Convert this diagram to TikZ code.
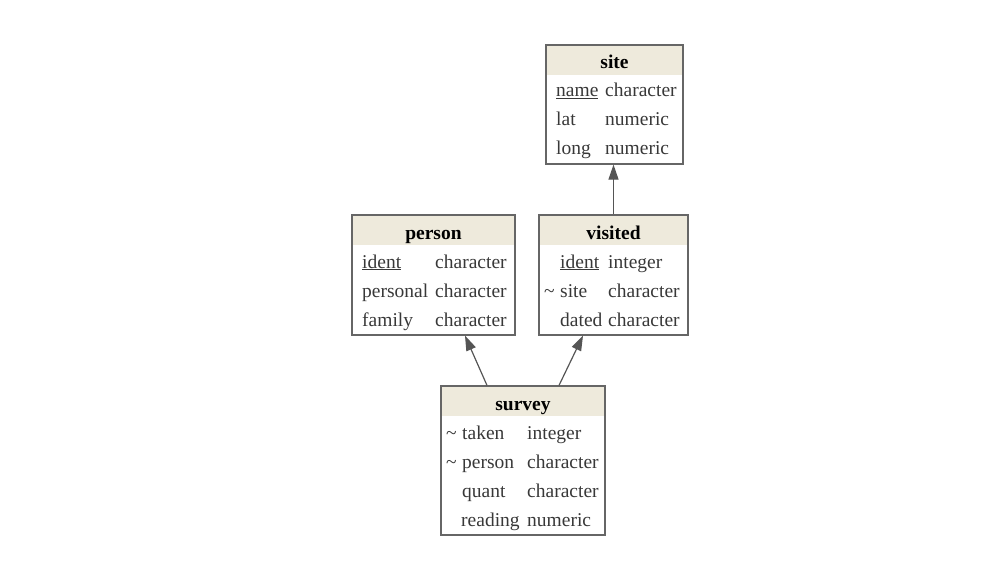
\documentclass[tikz,border=0pt]{standalone}
\usepackage{fontspec}
\setmainfont{Liberation Serif}
\usetikzlibrary{arrows.meta}
\usetikzlibrary{calc}

\definecolor{hdrfill}{HTML}{EEEADC}
\definecolor{boxline}{HTML}{666666}
\definecolor{fkline}{HTML}{555555}
\definecolor{rowtext}{HTML}{383838}

\tikzset{
  table/.style={draw=boxline, line width=1.2pt, inner sep=0pt},
  head/.style={anchor=base, inner sep=0pt, font=\fontsize{19.5}{23}\selectfont\bfseries, text=black},
  cell/.style={anchor=base west, inner sep=0pt, font=\fontsize{19.5}{23}\selectfont, text=rowtext},
  fk/.style={draw=fkline, line width=1.2pt, -{Triangle[length=15pt,width=10pt]}}
}

\begin{document}
\begin{tikzpicture}[x=1pt, y=-1pt]
            \useasboundingbox (0,0) rectangle (1000,580);
            % tables
            \node[table, minimum width=137pt, minimum height=119pt] (site)    at (614.5,104.5) {};
            \node[table, minimum width=163pt, minimum height=120pt] (person)  at (433.5,275)   {};
            \node[table, minimum width=149pt, minimum height=120pt] (visited) at (613.5,275)   {};
            \node[table, minimum width=164pt, minimum height=149pt] (survey)  at (523,460.5)   {};
            \foreach \t in {site, person, visited, survey}
              \fill[hdrfill] ($(\t.north west)+(2,2)$) rectangle ($(\t.north east)+(-2,31)$);
            % site
            \node[head] (site-h)      at (614.5,69) {site};
            \node[cell] (site-name)   at (556,97)   {\underline{name}};
            \node[cell] (site-name-t) at (605,97)   {character};
            \node[cell] (site-lat)    at (556,126)  {lat};
            \node[cell] (site-lat-t)  at (605,126)  {numeric};
            \node[cell] (site-long)   at (556,155)  {long};
            \node[cell] (site-long-t) at (605,155)  {numeric};
            % person
            \node[head] (person-h)          at (433.5,239) {person};
            \node[cell] (person-ident)      at (362,268)   {\underline{ident}};
            \node[cell] (person-ident-t)    at (435,268)   {character};
            \node[cell] (person-personal)   at (362,297)   {personal};
            \node[cell] (person-personal-t) at (435,297)   {character};
            \node[cell] (person-family)     at (362,326)   {family};
            \node[cell] (person-family-t)   at (435,326)   {character};
            % visited
            \node[head] (visited-h)       at (613.5,239) {visited};
            \node[cell] (visited-ident)   at (560,268)   {\underline{ident}};
            \node[cell] (visited-ident-t) at (608,268)   {integer};
            \node[cell] (visited-fk)      at (544,297)   {\textasciitilde};
            \node[cell] (visited-site)    at (560,297)   {site};
            \node[cell] (visited-site-t)  at (608,297)   {character};
            \node[cell] (visited-dated)   at (560,326)   {dated};
            \node[cell] (visited-dated-t) at (608,326)   {character};
            % survey
            \node[head] (survey-h)         at (523,410) {survey};
            \node[cell] (survey-fk1)       at (446,439) {\textasciitilde};
            \node[cell] (survey-taken)     at (462,439) {taken};
            \node[cell] (survey-taken-t)   at (527,439) {integer};
            \node[cell] (survey-fk2)       at (446,468) {\textasciitilde};
            \node[cell] (survey-person)    at (462,468) {person};
            \node[cell] (survey-person-t)  at (527,468) {character};
            \node[cell] (survey-quant)     at (462,497) {quant};
            \node[cell] (survey-quant-t)   at (527,497) {character};
            \node[cell] (survey-reading)   at (461,526) {reading};
            \node[cell] (survey-reading-t) at (527,526) {numeric};
            % foreign keys
            \path[fk] (visited.north) -- (visited.north |- site.south);
            \path[fk] ($(survey.north)+(-36,0)$) -- ($(person.south)+(31.5,0)$);
            \path[fk] ($(survey.north)+(36,0)$)  -- ($(visited.south)+(-30.5,0)$);
        \end{tikzpicture}
\end{document}
